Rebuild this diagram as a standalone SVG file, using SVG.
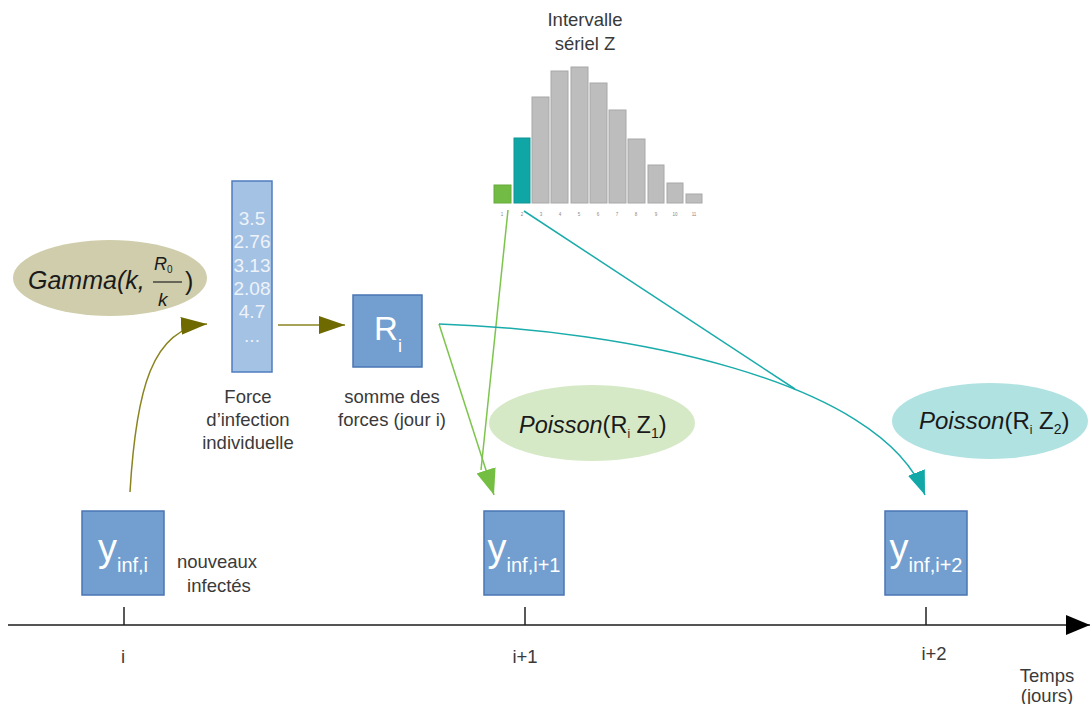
<svg xmlns="http://www.w3.org/2000/svg" width="1090" height="704" viewBox="0 0 1090 704">
<style>
text{font-family:"Liberation Sans",Arial,sans-serif}
.lbl{font-size:18.5px;fill:#3a3a3a;text-anchor:middle}
.box{fill:#729fcf;stroke:#4a76b4;stroke-width:1.5}
.bt{fill:#ffffff;text-anchor:middle}
.bar{fill:#bdbdbd;stroke:#a8a8a8;stroke-width:1}
.hn{font-size:4.5px;fill:#888;text-anchor:middle}
.num{font-size:19px;fill:#eef3fa;text-anchor:middle}
.eq{fill:#1a1a1a}
</style>
<defs>
<marker id="mo" markerUnits="userSpaceOnUse" markerWidth="26" markerHeight="18" refX="26" refY="9" orient="auto" viewBox="0 0 26 18"><path d="M0,0 L26,9 L0,18 z" fill="#6e6a00"/></marker>
<marker id="mg" markerUnits="userSpaceOnUse" markerWidth="26" markerHeight="20" refX="26" refY="10" orient="auto" viewBox="0 0 26 20"><path d="M0,0 L26,10 L0,20 z" fill="#74bf43"/></marker>
<marker id="mc" markerUnits="userSpaceOnUse" markerWidth="24" markerHeight="18" refX="24" refY="9" orient="auto" viewBox="0 0 24 18"><path d="M0,0 L24,9 L0,18 z" fill="#12a8a8"/></marker>
<marker id="mk" markerUnits="userSpaceOnUse" markerWidth="24" markerHeight="20" refX="24" refY="10" orient="auto" viewBox="0 0 24 20"><path d="M0,0 L24,10 L0,20 z" fill="#000"/></marker>
</defs>

<g id="timeline">
<line x1="8" y1="625" x2="1090" y2="625" stroke="#555" stroke-width="2" marker-end="url(#mk)"/>
<line x1="124" y1="607" x2="124" y2="625" stroke="#222" stroke-width="1.5"/>
<line x1="525" y1="607" x2="525" y2="625" stroke="#222" stroke-width="1.5"/>
<line x1="926" y1="607" x2="926" y2="625" stroke="#222" stroke-width="1.5"/>
<text class="lbl" x="123" y="663">i</text>
<text class="lbl" x="525" y="663">i+1</text>
<text class="lbl" x="934" y="660">i+2</text>
<text class="lbl" x="1047" y="682">Temps</text>
<text class="lbl" x="1047" y="702">(jours)</text>
</g>

<g id="histogram">
<text class="lbl" x="585" y="26" font-size="19px">Intervalle</text>
<text class="lbl" x="585" y="50" font-size="19px">sériel Z</text>
<rect x="494" y="185" width="17" height="18" fill="#72bb45" stroke="#66aa3c"/>
<rect x="514" y="138" width="16" height="65" fill="#10a6a6" stroke="#0e9494"/>
<rect class="bar" x="532" y="97" width="17" height="106"/>
<rect class="bar" x="551" y="71" width="17" height="132"/>
<rect class="bar" x="571" y="67" width="17" height="136"/>
<rect class="bar" x="590" y="83" width="17" height="120"/>
<rect class="bar" x="609" y="110" width="17" height="93"/>
<rect class="bar" x="628" y="139" width="17" height="64"/>
<rect class="bar" x="648" y="165" width="16" height="38"/>
<rect class="bar" x="667" y="183" width="16" height="20"/>
<rect class="bar" x="686" y="194" width="16" height="9"/>
<text class="hn" x="502" y="216">1</text>
<text class="hn" x="522" y="216">2</text>
<text class="hn" x="541" y="216">3</text>
<text class="hn" x="560" y="216">4</text>
<text class="hn" x="579" y="216">5</text>
<text class="hn" x="598" y="216">6</text>
<text class="hn" x="617" y="216">7</text>
<text class="hn" x="636" y="216">8</text>
<text class="hn" x="656" y="216">9</text>
<text class="hn" x="675" y="216">10</text>
<text class="hn" x="694" y="216">11</text>
</g>

<g id="gamma">
<ellipse cx="110" cy="278" rx="97" ry="38" fill="#cfcdab"/>
<text class="eq" x="28" y="289" font-size="25" font-style="italic">Gamma(k,</text>
<text class="eq" x="154" y="270" font-size="18" font-style="italic">R</text>
<text class="eq" x="167" y="273" font-size="10">0</text>
<line x1="153" y1="282" x2="182" y2="282" stroke="#222" stroke-width="1.2"/>
<text class="eq" x="158" y="306" font-size="19" font-style="italic">k</text>
<text class="eq" x="185" y="290" font-size="25">)</text>
</g>

<g id="force">
<rect x="232" y="181" width="40" height="191" fill="#a4c2e4" stroke="#4f7cbf" stroke-width="1.5"/>
<text class="num" x="252" y="225">3.5</text>
<text class="num" x="252" y="248">2.76</text>
<text class="num" x="252" y="272">3.13</text>
<text class="num" x="252" y="295">2.08</text>
<text class="num" x="252" y="318">4.7</text>
<text class="num" x="252" y="342" font-size="16">...</text>
<text class="lbl" x="248" y="403">Force</text>
<text class="lbl" x="248" y="426">d’infection</text>
<text class="lbl" x="248" y="449">individuelle</text>
</g>

<g id="ri">
<rect class="box" x="353" y="295" width="69" height="72"/>
<text class="bt" x="388" y="340"><tspan font-size="33">R</tspan><tspan font-size="18" dy="12">i</tspan></text>
<text class="lbl" x="392" y="403">somme des</text>
<text class="lbl" x="392" y="426">forces (jour i)</text>
</g>

<g id="poisson1">
<ellipse cx="592" cy="423" rx="103" ry="38" fill="#d6e9c7"/>
<text class="eq" x="519" y="433" font-size="23.5"><tspan font-style="italic">Poisson</tspan><tspan>(R</tspan><tspan font-size="12" dy="5">i</tspan><tspan dy="-5"> Z</tspan><tspan font-size="14" dy="5">1</tspan><tspan dy="-5">)</tspan></text>
</g>

<g id="poisson2">
<ellipse cx="990" cy="421" rx="98" ry="38" fill="#b0e2e2"/>
<text class="eq" x="919" y="429" font-size="24"><tspan font-style="italic">Poisson</tspan><tspan>(R</tspan><tspan font-size="12" dy="5">i</tspan><tspan dy="-5"> Z</tspan><tspan font-size="14" dy="5">2</tspan><tspan dy="-5">)</tspan></text>
</g>

<g id="y0">
<rect class="box" x="82" y="511" width="82" height="84"/>
<text class="bt" x="123" y="561"><tspan font-size="38">y</tspan><tspan font-size="20" dy="11">inf,i</tspan></text>
<text class="lbl" x="217" y="568">nouveaux</text>
<text class="lbl" x="219" y="592">infectés</text>
</g>

<g id="y1">
<rect class="box" x="484" y="511" width="80" height="84"/>
<text class="bt" x="524" y="561"><tspan font-size="38">y</tspan><tspan font-size="20" dy="11">inf,i+1</tspan></text>
</g>

<g id="y2">
<rect class="box" x="885" y="511" width="82" height="84"/>
<text class="bt" x="926" y="561"><tspan font-size="38">y</tspan><tspan font-size="20" dy="11">inf,i+2</tspan></text>
</g>

<g id="connectors" fill="none">
<path d="M130,492 C136,390 152,328 207,324" stroke="#8a8420" stroke-width="1.5" marker-end="url(#mo)"/>
<line x1="278" y1="325" x2="345" y2="325" stroke="#8a8420" stroke-width="1.5" marker-end="url(#mo)"/>
<line x1="508" y1="210" x2="481" y2="470" stroke="#7cc44c" stroke-width="1.5"/>
<line x1="439" y1="324" x2="494" y2="495" stroke="#7cc44c" stroke-width="1.5" marker-end="url(#mg)"/>
<line x1="524" y1="211" x2="795" y2="389" stroke="#1aabab" stroke-width="1.5"/>
<path d="M439,324 C620,330 880,378 925,495" stroke="#1aabab" stroke-width="1.5" marker-end="url(#mc)"/>
</g>
</svg>
